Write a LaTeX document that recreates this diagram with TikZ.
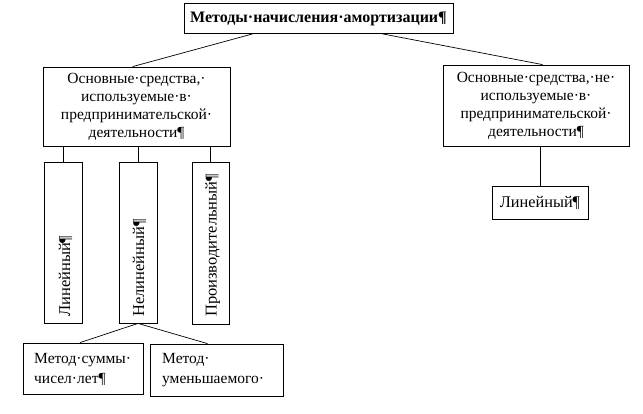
\documentclass[tikz,border=0pt]{standalone}
\usepackage{fontspec}
\setmainfont{Liberation Serif}
\usetikzlibrary{calc}
\begin{document}
\begin{tikzpicture}[x=1pt,y=-1pt,
  box/.style={draw, line width=0.8pt, inner sep=0pt},
  conn/.style={draw, line width=0.7pt},
  txt/.style={inner sep=0pt, font=\fontsize{15.5}{18}\selectfont},
  vtxt/.style={inner sep=0pt, rotate=90, anchor=base west, font=\fontsize{16.5}{18}\selectfont}]
\useasboundingbox (0,0) rectangle (643,413);
% boxes
\node[box, minimum width=269pt, minimum height=30pt, font=\bfseries\fontsize{16}{18}\selectfont] (top) at (318.5,18.5) {Методы·начисления·амортизации¶};
\node[box, minimum width=187pt, minimum height=79pt, align=center, font=\fontsize{15.5}{18}\selectfont] (L) at (136.5,106.5)
  {Основные·средства,·\\используемые·в·\\предпринимательской·\\деятельности¶};
\node[box, minimum width=186pt, minimum height=81pt, align=center, font=\fontsize{15.5}{18}\selectfont] (R) at (536,105.5)
  {Основные·средства,·не·\\используемые·в·\\предпринимательской·\\деятельности¶};
\node[box, minimum width=38pt, minimum height=161pt] (v1) at (63,242.5) {};
\node[box, minimum width=38pt, minimum height=161pt] (v2) at (138,242.5) {};
\node[box, minimum width=37pt, minimum height=162pt] (v3) at (210.5,243) {};
\node[vtxt] (t1) at (70,317) {Линейный¶};
\node[vtxt] (t2) at (144,317) {Нелинейный¶};
\node[vtxt] (t3) at (216.5,317) {Производительный¶};
\node[box, minimum width=96pt, minimum height=33pt, font=\fontsize{16.3}{18}\selectfont] (r1) at (540,202.5) {Линейный¶};
\node[box, minimum width=120pt, minimum height=51pt] (b1) at (83,368.5) {};
\node[box, minimum width=133pt, minimum height=52pt] (b2) at (216.5,370) {};
\node[txt, anchor=base west] (b1a) at (34,363) {Метод·суммы·};
\node[txt, anchor=base west] (b1b) at (34,383) {чисел·лет¶};
\node[txt, anchor=base west] (b2a) at (162,363) {Метод·};
\node[txt, anchor=base west] (b2b) at (162,383) {уменьшаемого·};
% connectors
\draw[conn] ($(top.south west)+(69,0)$) -- ($(L.north west)+(90,0)$);
\draw[conn] ($(top.south west)+(199,0)$) -- ($(R.north west)+(100,0)$);
\draw[conn] (L.south -| v1.north) -- (v1.north);
\draw[conn] (L.south -| v2.north) -- (v2.north);
\draw[conn] (L.south -| v3.north) -- (v3.north);
\draw[conn] (R.south -| r1.north) -- (r1.north);
\draw[conn] (v2.south) -- ($(b1.north)+(-3,0)$);
\draw[conn] (v2.south) -- ($(b2.north)+(-9,0)$);
\end{tikzpicture}
\end{document}
